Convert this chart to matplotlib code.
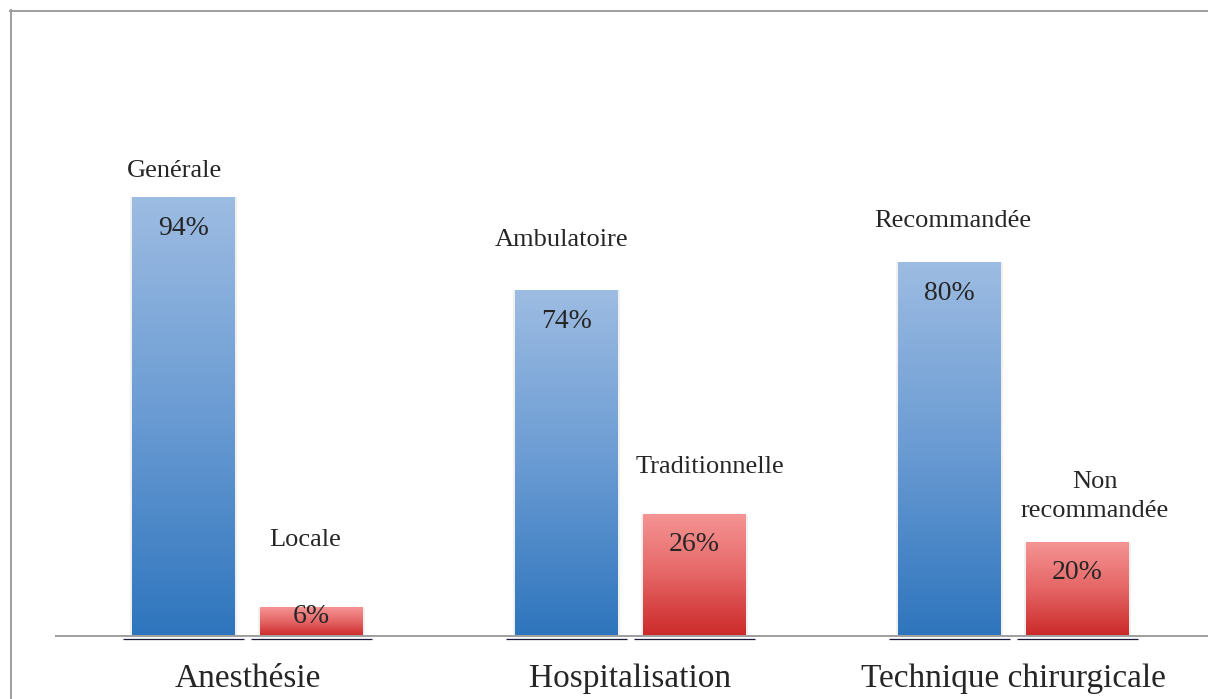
import numpy as np
import matplotlib
matplotlib.use("Agg")
import matplotlib.pyplot as plt
from matplotlib.colors import LinearSegmentedColormap
from matplotlib.lines import Line2D

# données
categories = ["Anesthésie", "Hospitalisation", "Technique chirurgicale"]
first_labels = ["Genérale", "Ambulatoire", "Recommandée"]
second_labels = ["Locale", "Traditionnelle", "Non\nrecommandée"]
first_values = [94, 74, 80]
second_values = [6, 26, 20]

# décalages des étiquettes (pixels, relatifs au haut de la barre)
first_label_off = [(-9, 26), (-5, 50), (3, 41)]
second_label_off = [(-6, 68), (15, 48), (17, 46)]
second_pct_off = [9, 30, 30]

W, H = 1208, 699
DPI = 100
fig = plt.figure(figsize=(W / DPI, H / DPI), dpi=DPI)
ax = fig.add_axes([56 / W, (H - 636) / H, 1152 / W, 467 / H])

text_col = "#262626"
serif = ["Liberation Serif", "DejaVu Serif"]

blue_cmap = LinearSegmentedColormap.from_list("b", ["#2e75bd", "#6a9bd3", "#9dbce2"])
red_cmap = LinearSegmentedColormap.from_list("r", ["#cc2929", "#e56565", "#f59494"])

x = np.arange(len(categories))
width = 103 / 383
off = 64 / 383

b1 = ax.bar(x - off, first_values, width, color="none", zorder=2)
b2 = ax.bar(x + off, second_values, width, color="none", zorder=2)

grad = np.linspace(0, 1, 256).reshape(-1, 1)


def fill_gradient(bars, cmap):
    for b in bars:
        x0, w, h = b.get_x(), b.get_width(), b.get_height()
        # ombre légère
        ax.bar(x0 + w / 2, h, w * 1.04, color="#000000", alpha=0.06, zorder=1)
        ax.imshow(grad, extent=[x0, x0 + w, 0, h], origin="lower", aspect="auto",
                  cmap=cmap, zorder=2)
        # petit trait sombre sous la barre
        ax.plot([x0 - w * 0.085, x0 + w * 1.085], [-0.6, -0.6], color="#1a1a3a",
                lw=0.9, zorder=3, clip_on=False, solid_capstyle="butt")


fill_gradient(b1, blue_cmap)
fill_gradient(b2, red_cmap)

ax.set_xlim(-0.5, len(categories) - 0.5 + 3 / 383)
ax.set_ylim(0, 100)

px = 72 / DPI  # points par pixel

for i, b in enumerate(b1):
    cx = b.get_x() + b.get_width() / 2
    h = b.get_height()
    ax.annotate(f"{first_values[i]}%", (cx, h), xytext=(0, -31 * px), textcoords="offset points",
                ha="center", va="center", fontsize=20, family=serif, color=text_col, zorder=4)
    dx, dy = first_label_off[i]
    ax.annotate(first_labels[i], (cx, h), xytext=(dx * px, dy * px), textcoords="offset points",
                ha="center", va="center", fontsize=19, family=serif, color=text_col)

for i, b in enumerate(b2):
    cx = b.get_x() + b.get_width() / 2
    h = b.get_height()
    ax.annotate(f"{second_values[i]}%", (cx, h), xytext=(0, -second_pct_off[i] * px),
                textcoords="offset points", ha="center", va="center", fontsize=20,
                family=serif, color=text_col, zorder=4)
    dx, dy = second_label_off[i]
    ax.annotate(second_labels[i], (cx, h), xytext=(dx * px, dy * px), textcoords="offset points",
                ha="center", va="center", fontsize=19, family=serif, color=text_col,
                linespacing=1.4)

ax.set_xticks(x)
ax.set_xticklabels(categories, fontsize=24, family=serif, color=text_col)
ax.tick_params(axis="x", length=0, pad=20)
ax.set_yticks([])
for s in ["top", "right", "left"]:
    ax.spines[s].set_visible(False)
ax.spines["bottom"].set_color("#a0a0a0")
ax.spines["bottom"].set_linewidth(2 * px)
ax.patch.set_alpha(0)

# cadre du graphique (coupé à droite et en bas)
fig.add_artist(Line2D([10.5 / W, 10.5 / W], [0, (H - 10) / H], color="#a0a0a0", lw=2 * px))
fig.add_artist(Line2D([10 / W, 1], [(H - 10.5) / H, (H - 10.5) / H], color="#a0a0a0", lw=2 * px))

fig.savefig("out.png", dpi=DPI)
